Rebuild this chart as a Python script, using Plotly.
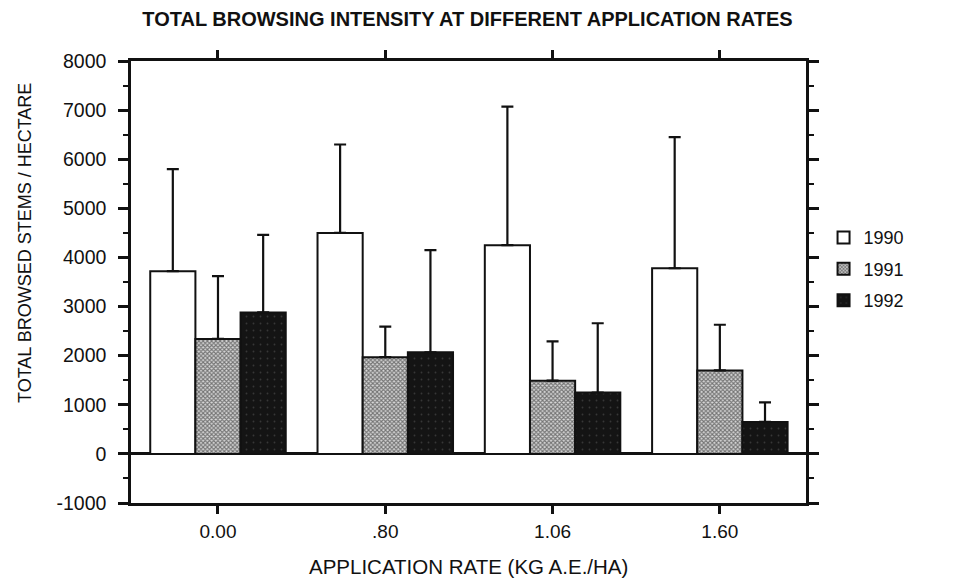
import plotly.graph_objects as go

categories = ["0.00", ".80", "1.06", "1.60"]
years = ["1990", "1991", "1992"]
mean_1990 = [3720, 4500, 4250, 3780]
mean_1991 = [2340, 1970, 1490, 1700]
mean_1992 = [2880, 2070, 1250, 650]
sd_1990 = [2080, 1800, 2820, 2670]
sd_1991 = [1280, 620, 800, 930]
sd_1992 = [1580, 2080, 1410, 400]
y_tick_vals = [-1000, 0, 1000, 2000, 3000, 4000, 5000, 6000, 7000, 8000]
y_tick_labels = ["-1000", "0", "1000", "2000", "3000", "4000", "5000", "6000", "7000", "8000"]

FONT = "Liberation Sans"
INK = "#111111"
means = [mean_1990, mean_1991, mean_1992]
sds = [sd_1990, sd_1991, sd_1992]
styles = [
    dict(color="white", pattern=dict(shape="")),
    dict(color="#b0b0b0", pattern=dict(shape="x", fgcolor=INK, bgcolor="#d8d8d8", size=3, solidity=0.6)),
    dict(color="#141414", pattern=dict(shape=".", fgcolor="#5a5a5a", bgcolor="#141414", size=7, solidity=0.05)),
]

fig = go.Figure()
for i, yr in enumerate(years):
    fig.add_trace(go.Bar(
        x=categories, y=means[i], name=yr, legendgroup=yr,
        marker=dict(color=styles[i]["color"], pattern=styles[i]["pattern"],
                    line=dict(color=INK, width=2)),
        error_y=dict(type="data", symmetric=False, array=sds[i],
                     arrayminus=[0] * len(sds[i]), color=INK,
                     thickness=2.2, width=6),
    ))

fig.update_layout(
    width=953, height=586,
    margin=dict(l=131, r=147, t=61, b=83),
    paper_bgcolor="white", plot_bgcolor="white",
    barmode="group", bargap=0.19, bargroupgap=0,
    font=dict(family=FONT, color=INK, size=15),
    title=dict(text="<b>TOTAL BROWSING INTENSITY AT DIFFERENT APPLICATION RATES</b>",
               x=0.4985, xref="paper", xanchor="center", y=0.968, yref="container", yanchor="middle",
               font=dict(family=FONT, size=20, color=INK)),
    legend=dict(x=1.026, y=0.642, xanchor="left", yanchor="top",
                font=dict(family=FONT, size=18), tracegroupgap=5,
                bgcolor="rgba(0,0,0,0)"),
    showlegend=True,
    annotations=[
        dict(text="APPLICATION RATE (KG A.E./HA)", xref="paper", yref="paper",
             x=(468 - 131) / 675, y=(503 - 566) / 442, xanchor="center", yanchor="middle",
             showarrow=False, font=dict(family=FONT, size=20.5, color=INK)),
        dict(text="TOTAL BROWSED STEMS / HECTARE", xref="paper", yref="paper",
             x=(25 - 131) / 675, y=(503 - 243) / 442, xanchor="center", yanchor="middle",
             textangle=-90, showarrow=False, font=dict(family=FONT, size=18, color=INK)),
    ],
)

fig.update_xaxes(
    type="category", range=[-0.52, 3.515],
    showline=True, linecolor=INK, linewidth=2.5, mirror="ticks",
    ticks="outside", ticklen=8, tickwidth=2.5, tickcolor=INK,
    showgrid=False, tickfont=dict(family=FONT, size=19), ticklabelstandoff=1,
)
fig.update_yaxes(
    range=[-1000, 8000], tickmode="array", tickvals=y_tick_vals, ticktext=y_tick_labels,
    showline=True, linecolor=INK, linewidth=2.5, mirror="ticks",
    ticks="outside", ticklen=10, tickwidth=2.5, tickcolor=INK,
    minor=dict(dtick=500, tick0=0, ticks="outside", ticklen=5, tickwidth=2, tickcolor=INK, showgrid=False),
    showgrid=False, zeroline=True, zerolinecolor=INK, zerolinewidth=2.5,
    tickfont=dict(family=FONT, size=19.5), ticklabelstandoff=8,
)

fig.write_html("out.html")
